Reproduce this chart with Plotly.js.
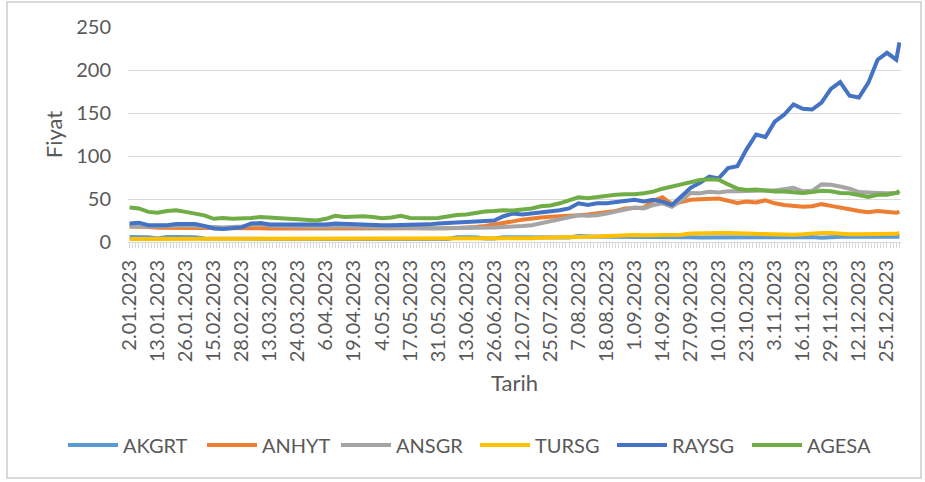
<!DOCTYPE html>
<html>
<head>
<meta charset="utf-8">
<script src="https://cdn.plot.ly/plotly-3.0.1.min.js"></script>
<style>
  html, body { margin: 0; padding: 0; background: #ffffff; }
  #wrap { position: relative; width: 925px; height: 482px; overflow: hidden; }
  #chart { position: absolute; left: 0; top: 0; width: 925px; height: 482px; }
  #frame { position: absolute; left: 6px; top: 1px; width: 916px; height: 478px;
           box-sizing: border-box; border: 2px solid #d9d9d9; pointer-events: none; }
</style>
</head>
<body>
<div id="wrap">
  <div id="chart"></div>
  <div id="frame"></div>
</div>
<script>
const dates = ['2.01.2023','5.01.2023','10.01.2023','13.01.2023','18.01.2023','23.01.2023','26.01.2023','31.01.2023',
  '3.02.2023','15.02.2023','20.02.2023','23.02.2023','28.02.2023',
  '3.03.2023','8.03.2023','13.03.2023','16.03.2023','21.03.2023','24.03.2023','29.03.2023',
  '3.04.2023','6.04.2023','11.04.2023','14.04.2023','19.04.2023','25.04.2023','28.04.2023',
  '4.05.2023','9.05.2023','12.05.2023','17.05.2023','23.05.2023','26.05.2023','31.05.2023',
  '5.06.2023','8.06.2023','13.06.2023','16.06.2023','21.06.2023','26.06.2023',
  '4.07.2023','7.07.2023','12.07.2023','17.07.2023','20.07.2023','25.07.2023','28.07.2023',
  '2.08.2023','7.08.2023','10.08.2023','15.08.2023','18.08.2023','23.08.2023','28.08.2023',
  '1.09.2023','6.09.2023','11.09.2023','14.09.2023','19.09.2023','22.09.2023','27.09.2023',
  '2.10.2023','5.10.2023','10.10.2023','13.10.2023','18.10.2023','23.10.2023','26.10.2023','31.10.2023',
  '3.11.2023','8.11.2023','13.11.2023','16.11.2023','21.11.2023','24.11.2023','29.11.2023',
  '4.12.2023','7.12.2023','12.12.2023','15.12.2023','20.12.2023','25.12.2023','28.12.2023','29.12.2023'];

const AKGRT = [5.8,5.8,5.6,4,5.8,5.8,5.6,5.5,4,3.8,
  3.8,3.8,3.7,3.7,3.7,3.6,3.6,3.6,3.6,3.6,
  3.6,3.7,3.7,3.6,3.6,3.6,3.6,3.6,3.6,3.6,
  3.6,3.6,3.6,3.6,3.6,5.5,5.8,5.5,4,4,
  5.5,5.5,5.5,5.5,5,5,5,5.2,7,6,
  6,6.2,6.2,6.5,6.5,6,6,6,6.2,6.2,
  5.5,5.2,5.2,5.2,5.4,5.4,5.2,6,6.2,6,
  6,6,6,5.8,5,6,6,6,6,6,
  6,6,6,6.2];

const ANHYT = [18,18,17.5,16.5,16.5,17,17,17,16.5,16,
  16,16,16,16.5,16,15.7,15.7,15.5,15.5,15.5,
  15,15,15,15,15,15,15,15,15.2,15.5,
  15.7,15.7,15.7,15.7,16,16.4,16.5,17.5,18.5,20,
  22,24,26,27.5,28.5,29.3,29.5,30,31,32,
  33,34.5,36,39,40,40,48,52,44,47,
  49,49.7,49.7,50.5,48,45.5,47,46,48.5,45,
  43,42,41,41.5,44,42,39.5,38,36,34.5,
  36,35,34,35];

const ANSGR = [18,18.5,18,18,19,19,19,18.5,18,17,
  17,17.5,18,20,21,19,18.5,18,18,17.5,
  17.5,17.5,18,18,17.5,17,17,17,16.5,16.5,
  16,16,16,16,16,16,16.5,16.5,17,17,
  17.5,17.5,18.5,19.5,22,24,27,29.3,31,30.5,
  31,33,35,37,40,39,43,45,41,48,
  57,56.7,58.5,57.5,59,59,59.5,60.6,60,59.8,
  61,63,59,59.5,67,66.5,64.5,62,58,57,
  57,56.7,56.5,57];

const TURSG = [3.5,3.5,3.5,3.6,3.6,3.6,3.5,3.5,3.5,3.4,
  3.4,3.4,3.5,3.5,3.5,3.4,3.4,3.4,3.5,3.5,
  3.5,3.5,3.6,3.6,3.5,3.5,3.5,3.5,3.6,3.6,
  3.6,3.7,3.7,3.8,3.8,3.9,4,4,4,4.1,
  4.2,4.2,4.3,4.5,5,5,5.2,5.5,6,6,
  6.5,7,7,8,8,7.8,7.8,8,8,8.5,
  10,10.5,10.6,10.6,10.5,10.6,10,9.5,9,9,
  9,8.5,9,10,10.6,10.5,9.5,9,9,9,
  9,9,9.5,10.5];

const RAYSG = [21.6,22.5,19.5,19,19.6,20.8,20.4,20.8,18.8,15.7,
  15,15.5,17,21.5,22,20.4,20.4,19.6,20.4,19.6,
  19.6,20.4,21.5,21,20.4,19.6,19.6,19.6,19.6,19.6,
  19.6,19.8,20.5,21.5,22,22.7,23,23.5,24,25,
  30,33,32,33,34.5,35.5,37,39,45,43,
  45,45,46,47,49,47,49,47,43,53,
  63,69,76,74,86,88,108,125,122,140,
  148,160,155,154,162,178,186,170,168,185,
  212,220,212,232];

const AGESA = [40,39,35,34,36,37,35,33,31,27,
  28,27,27,28,29,28,28,27,26.5,25.5,
  25,27,30.5,29,30,30,29,27.5,28.5,30.5,
  28,27.5,27.5,28,30,31.5,32,34,35.5,36,
  37,36.5,37.5,39,41.5,42.5,45,49,52,51,
  52.4,54,55,55.6,55.5,56.7,58.6,62,64,67,
  69.5,72,73,72.5,67,62,60.5,61,59.8,58.6,
  58.6,57.5,57,58,59.5,59,57,56.7,55,52.5,
  55,55,57,59.5];

const seriesNames = ['AKGRT','ANHYT','ANSGR','TURSG','RAYSG','AGESA'];
const seriesColors = ['#5B9BD5','#ED7D31','#A5A5A5','#FFC000','#4472C4','#70AD47'];

const tickLabels = ['2.01.2023','13.01.2023','26.01.2023','15.02.2023','28.02.2023','13.03.2023','24.03.2023',
  '6.04.2023','19.04.2023','4.05.2023','17.05.2023','31.05.2023','13.06.2023','26.06.2023','12.07.2023',
  '25.07.2023','7.08.2023','18.08.2023','1.09.2023','14.09.2023','27.09.2023','10.10.2023','23.10.2023',
  '3.11.2023','16.11.2023','29.11.2023','12.12.2023','25.12.2023'];

// Borsa Istanbul closed days in 2023 (weekdays)
const closedDays = ['8.02.2023','9.02.2023','10.02.2023','13.02.2023','14.02.2023','21.04.2023',
  '1.05.2023','19.05.2023','28.06.2023','29.06.2023','30.06.2023','30.08.2023'];

// ---- trading-day calendar (category positions of the axis) ----
function fmt(d) {
  return d.getUTCDate() + '.' + String(d.getUTCMonth() + 1).padStart(2, '0') + '.' + d.getUTCFullYear();
}
const tradingDays = [];
for (let t = Date.UTC(2023, 0, 2); t <= Date.UTC(2023, 11, 29); t += 86400000) {
  const d = new Date(t);
  const wd = d.getUTCDay();
  if (wd === 0 || wd === 6) continue;
  const s = fmt(d);
  if (closedDays.indexOf(s) >= 0) continue;
  tradingDays.push(s);
}
const pos = s => tradingDays.indexOf(s);
const xs = dates.map(pos);

const allSeries = [AKGRT, ANHYT, ANSGR, TURSG, RAYSG, AGESA];
const FONT = 'Lato, "Open Sans", "DejaVu Sans", sans-serif';
const TXT = '#595959';

// one legend box per series, laid out in a single row like the original
const legendIds = ['legend', 'legend2', 'legend3', 'legend4', 'legend5', 'legend6'];
const legendLeftPx = [63, 202, 336, 475, 612, 747];   // left edges of the legend entries (px)
const plotLeft = 128, plotW = 773, plotBottom = 242, plotH = 213;

const traces = allSeries.map((vals, k) => ({
  type: 'scatter',
  mode: 'lines',
  name: seriesNames[k],
  legend: legendIds[k],
  x: xs,
  y: vals,
  line: { color: seriesColors[k], width: 4, shape: 'linear' },
  hoverinfo: 'skip'
}));

const layout = {
  width: 925,
  height: 482,
  margin: { l: plotLeft, r: 925 - plotLeft - plotW, t: 482 - plotBottom - plotH, b: 482 - plotBottom, pad: 0 },
  paper_bgcolor: '#ffffff',
  plot_bgcolor: '#ffffff',
  font: { family: FONT, size: 20, color: TXT },
  showlegend: true,
  xaxis: {
    type: 'linear',
    range: [-0.5, tradingDays.length - 0.5],
    tickmode: 'array',
    tickvals: tickLabels.map(pos),
    ticktext: tickLabels,
    tickangle: -90,
    ticks: 'outside',
    ticklen: 5,
    tickwidth: 1,
    tickcolor: '#d9d9d9',
    minor: { tickmode: 'linear', tick0: 0, dtick: 1, ticks: 'outside', ticklen: 5, tickwidth: 1, tickcolor: '#d9d9d9', showgrid: false },
    ticklabelstandoff: 4,
    tickfont: { family: FONT, size: 20, color: TXT },
    showline: true,
    linecolor: '#d9d9d9',
    linewidth: 1,
    showgrid: false,
    zeroline: false,
    title: { text: 'Tarih', font: { family: FONT, size: 22, color: TXT }, standoff: 14 },
    fixedrange: true
  },
  yaxis: {
    range: [0, 250],
    tickmode: 'linear',
    tick0: 0,
    dtick: 50,
    ticks: '',
    showline: false,
    showgrid: true,
    gridcolor: '#d9d9d9',
    gridwidth: 1,
    zeroline: false,
    ticklabelstandoff: 16,
    tickfont: { family: FONT, size: 20, color: TXT },
    title: { text: 'Fiyat', font: { family: FONT, size: 22, color: TXT }, standoff: 7 },
    fixedrange: true
  }
};

legendIds.forEach((id, k) => {
  layout[id] = {
    orientation: 'h',
    x: (legendLeftPx[k] - plotLeft) / plotW, xanchor: 'left',
    y: (plotBottom - 443) / plotH, yanchor: 'middle',
    font: { family: FONT, size: 20, color: TXT },
    itemwidth: 50,
    bgcolor: 'rgba(0,0,0,0)',
    borderwidth: 0
  };
});

Plotly.newPlot('chart', traces, layout, { displayModeBar: false, staticPlot: true, responsive: false });
</script>
</body>
</html>
